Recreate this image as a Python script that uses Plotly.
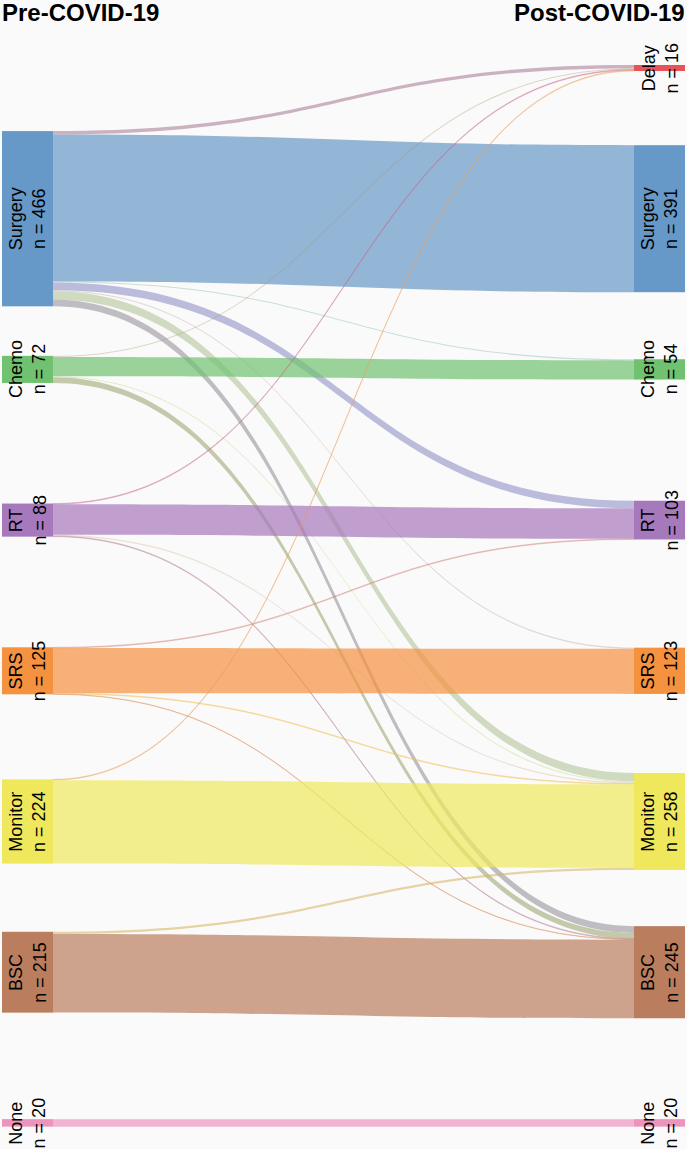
import plotly.graph_objects as go

# ---- data ----
pre_labels = ["Surgery", "Chemo", "RT", "SRS", "Monitor", "BSC", "None"]
pre_n = [466, 72, 88, 125, 224, 215, 20]
post_labels = ["Delay", "Surgery", "Chemo", "RT", "SRS", "Monitor", "BSC", "None"]
post_n = [16, 391, 54, 103, 123, 258, 245, 20]

# flows[pre][post]  (columns follow post_labels)
flows = [
    [9, 391, 3, 20, 3, 22, 18, 0],   # Surgery
    [3, 0, 51, 0, 0, 3, 15, 0],      # Chemo
    [2, 0, 0, 81, 0, 3, 2, 0],       # RT
    [0, 0, 0, 2, 120, 2, 1, 0],      # SRS
    [2, 0, 0, 0, 0, 222, 0, 0],      # Monitor
    [0, 0, 0, 0, 0, 6, 209, 0],      # BSC
    [0, 0, 0, 0, 0, 0, 0, 20],       # None
]

colors = {
    "Delay": (230, 84, 88),
    "Surgery": (102, 152, 200),
    "Chemo": (112, 194, 112),
    "RT": (166, 120, 188),
    "SRS": (245, 146, 64),
    "Monitor": (240, 232, 92),
    "BSC": (186, 126, 94),
    "None": (236, 148, 190),
}

# rank of each category (vertical slot)
rank = {c: i for i, c in enumerate(post_labels)}

# ---- layout geometry ----
W, H = 687, 1149
top_c, step = 68, 150.7
left_x, right_x = 27.5 / W, 659.5 / W

def ypos(cat):
    return (top_c + step * rank[cat]) / H

node_x = [left_x] * len(pre_labels) + [right_x] * len(post_labels)
node_y = [ypos(c) for c in pre_labels] + [ypos(c) for c in post_labels]
node_cols = ["rgb(%d,%d,%d)" % colors[c] for c in pre_labels + post_labels]

src, tgt, val, lcol = [], [], [], []
for i, row in enumerate(flows):
    for j, v in enumerate(row):
        if v > 0:
            src.append(i)
            tgt.append(len(pre_labels) + j)
            val.append(v)
            a = colors[pre_labels[i]]
            b = colors[post_labels[j]]
            if pre_labels[i] == post_labels[j]:
                m = a
                alpha = 0.7
            else:
                m = tuple(int(0.5 * a[k] + 0.5 * b[k]) for k in range(3))
                alpha = 0.55 if v >= 5 else 0.35
            lcol.append("rgba(%d,%d,%d,%.2f)" % (m + (alpha,)))

ky = 0.376
pad = (H - ky * sum(post_n)) / (len(post_labels) - 1)

fig = go.Figure(go.Sankey(
    arrangement="fixed",
    node=dict(
        label=[""] * (len(pre_labels) + len(post_labels)),
        x=node_x, y=node_y,
        color=node_cols,
        thickness=51,
        pad=pad,
        line=dict(width=0),
    ),
    link=dict(source=src, target=tgt, value=val, color=lcol),
    hoverinfo="none",
))

annotations = []
font = dict(family="Helvetica, Arial, Liberation Sans", size=18, color="black")
for lab, n in zip(pre_labels, pre_n):
    annotations.append(dict(x=left_x, y=1 - ypos(lab), xref="paper", yref="paper",
                            text=f"{lab}<br>n = {n}", textangle=-90, showarrow=False,
                            font=font, xanchor="center", yanchor="middle"))
for lab, n in zip(post_labels, post_n):
    annotations.append(dict(x=right_x, y=1 - ypos(lab), xref="paper", yref="paper",
                            text=f"{lab}<br>n = {n}", textangle=-90, showarrow=False,
                            font=font, xanchor="center", yanchor="middle"))

tfont = dict(family="Helvetica, Arial, Liberation Sans", size=24, color="black")
annotations.append(dict(x=0, y=1, xref="paper", yref="paper", text="<b>Pre-COVID-19</b>",
                        showarrow=False, xanchor="left", yanchor="top", font=tfont, yshift=3))
annotations.append(dict(x=1, y=1, xref="paper", yref="paper", text="<b>Post-COVID-19</b>",
                        showarrow=False, xanchor="right", yanchor="top", font=tfont, yshift=3))

fig.update_layout(
    width=W, height=H,
    margin=dict(l=0, r=0, t=0, b=0),
    paper_bgcolor="rgb(250,250,250)",
    plot_bgcolor="rgb(250,250,250)",
    annotations=annotations,
)

fig.write_html("out.html",
               config={"displayModeBar": False},
               post_script="document.body.style.margin='0';document.body.style.overflow='hidden';")
